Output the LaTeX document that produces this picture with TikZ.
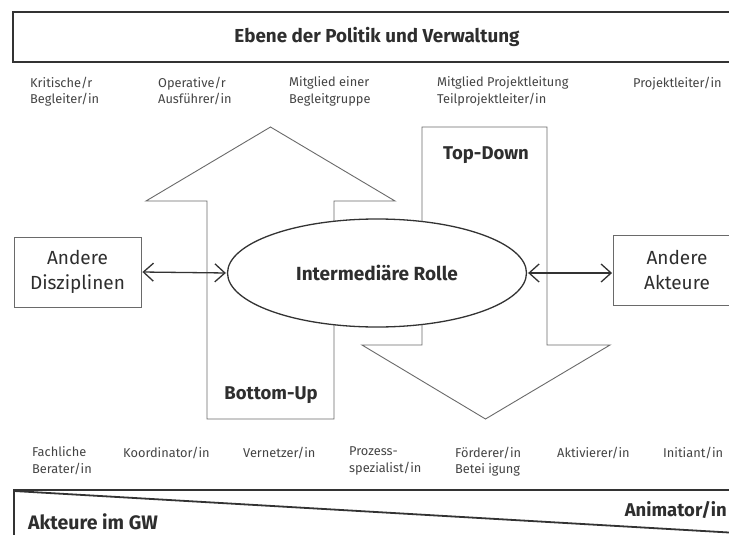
\documentclass[tikz,border=0pt]{standalone}
\usepackage{fontspec}
\setmainfont{Fira Sans}
\usetikzlibrary{arrows.meta,shapes.geometric}
\definecolor{txt}{HTML}{2E2E2E}
\definecolor{lbltxt}{HTML}{444444}
\definecolor{shp}{HTML}{6A6A6A}
\definecolor{frm}{HTML}{333333}
\begin{document}
\begin{tikzpicture}[x=1pt,y=-1pt,
  lbl/.style={anchor=north west, inner sep=0pt, align=left, text=lbltxt,
    font=\fontsize{12.8}{16.5}\selectfont},
  frame/.style={draw=frm, line width=1.8pt},
  bigarrow/.style={draw=shp, line width=0.9pt, fill=white, line join=miter},
  boxnode/.style={draw=shp, line width=0.9pt, fill=white, align=center, inner sep=0pt,
    minimum width=127, minimum height=70, text=txt,
    font=\fontsize{19}{25}\selectfont},
  boldlbl/.style={text=txt, inner sep=0pt, font=\fontsize{18.5}{20}\selectfont\bfseries},
  dbl/.style={draw=frm, line width=1.3pt, {Straight Barb[length=10pt,width=18pt]}-{Straight Barb[length=10pt,width=18pt]}, shorten <=1pt, shorten >=1pt}
]
\useasboundingbox (0,0) rectangle (729,535);
\clip (0,0) rectangle (729,535);
\fill[white] (0,0) rectangle (729,535);

% top frame
\draw[frame] (13,12) rectangle (760,62);
\node[boldlbl, font=\fontsize{18.8}{20}\selectfont\bfseries] (title) at (377,37) {Ebene der Politik und Verwaltung};

% top labels
\node[lbl] (t1) at (30,76.5) {Kritische/r\\Begleiter/in};
\node[lbl] (t2) at (158,76.5) {Operative/r\\Ausführer/in};
\node[lbl] (t3) at (289,76.5) {Mitglied einer\\Begleitgruppe};
\node[lbl] (t4) at (437,76.5) {Mitglied Projektleitung\\Teilprojektleiter/in};
\node[lbl] (t5) at (633,76.5) {Projektleiter/in};

% big arrows
\draw[bigarrow] (207,419) -- (207,201) -- (146,201) -- (270.5,127) -- (395,201) -- (334,201) -- (334,419) -- cycle;
\draw[bigarrow] (422,127) -- (547,127) -- (547,345) -- (610,345) -- (485.5,419) -- (362,345) -- (422,345) -- cycle;
\node[boldlbl] (td) at (486,155) {Top-Down};
\node[boldlbl] (bu) at (271,395) {Bottom-Up};

% central ellipse
\node[ellipse, draw=frm, line width=1.3pt, fill=white, minimum width=299, minimum height=108, inner sep=0pt,
  text=txt, font=\fontsize{19}{20}\selectfont\bfseries] (role) at (377,273) {Intermediäre Rolle};

% side boxes
\node[boxnode] (disz) at (77.5,272) {Andere\\Disziplinen};
\node[boxnode] (akt) at (677,270) {Andere\\Akteure};

\draw[dbl] (disz.east) -- (role.west);
\draw[dbl] (role.east) -- (akt.west |- role.east);

% bottom labels
\node[lbl] (b1) at (32,446.5) {Fachliche\\Berater/in};
\node[lbl] (b2) at (123,446.5) {Koordinator/in};
\node[lbl] (b3) at (243,446.5) {Vernetzer/in};
\node[lbl] (b4) at (349,446.5) {Prozess-\\spezialist/in};
\node[lbl] (b5) at (455,446.5) {Förderer/in\\Betei igung};
\node[lbl] (b6) at (557,446.5) {Aktivierer/in};
\node[lbl] (b7) at (663,446.5) {Initiant/in};

% bottom frame
\draw[frame] (14,560) -- (14,490) -- (760,490);
\draw[frame] (14,491) -- (760,534.3);
\node[boldlbl, anchor=west, font=\fontsize{19.5}{20}\selectfont\bfseries] (akg) at (28,522) {Akteure im GW};
\node[boldlbl, anchor=east, font=\fontsize{18.5}{20}\selectfont\bfseries] (anim) at (727,510) {Animator/in};
\end{tikzpicture}
\end{document}
